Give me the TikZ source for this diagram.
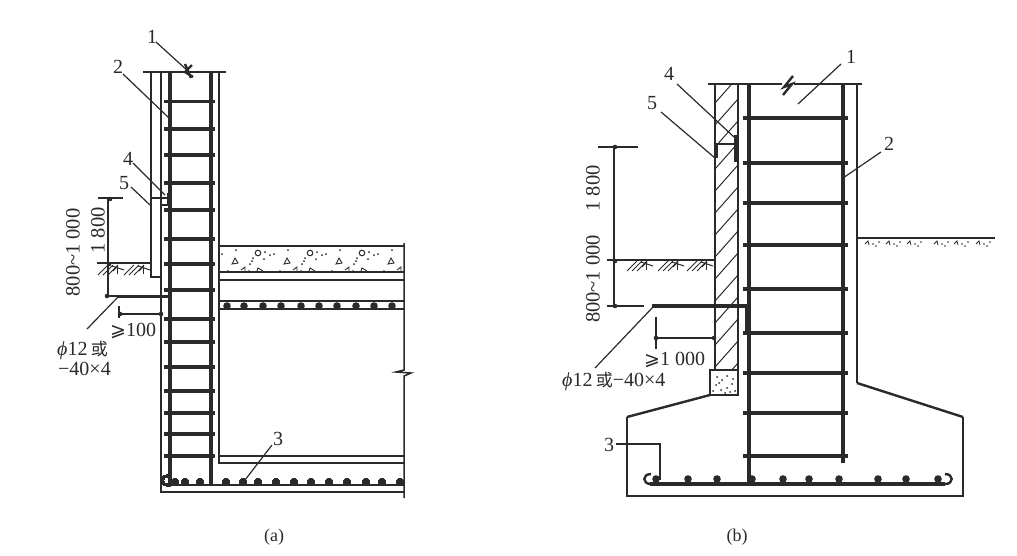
\documentclass[tikz,border=0pt]{standalone}
\usepackage{fontspec}
\setmainfont{Liberation Serif}
\newfontfamily\cjk{Noto Sans CJK SC}
\newfontfamily\symf{DejaVu Sans}
\definecolor{ink}{HTML}{2A2A2A}
\tikzset{
  thinl/.style={draw=ink,line width=1.5pt},
  medl/.style={draw=ink,line width=2.4pt},
  thickl/.style={draw=ink,line width=3.6pt},
  rung/.style={draw=ink,line width=3.3pt},
  leader/.style={draw=ink,line width=1.2pt},
  lbl/.style={text=ink,inner sep=0pt,font=\fontsize{20}{20}\selectfont},
  dimlbl/.style={text=ink,inner sep=0pt,rotate=90,font=\fontsize{20.5}{20.5}\selectfont},
  captext/.style={text=ink,inner sep=0pt,font=\fontsize{18}{18}\selectfont},
  hatchl/.style={draw=ink,line width=1pt}
}
\newcommand{\groundg}[2]{%
  \foreach \i in {0,1,2}{\draw[hatchl] ({#1+\i*5},{#2+10}) -- ({#1+\i*5+10},{#2});}
  \draw[hatchl] ({#1+14},{#2+1}) -- ({#1+26},{#2+5});
  \draw[hatchl] ({#1+15},{#2+6}) -- ({#1+20},{#2+1});
  \draw[hatchl] ({#1+19},{#2+9}) -- ({#1+19},{#2+3});
}
\newcommand{\rebardot}[2]{\fill[ink] (#1,#2) circle (3.8);}
\newcommand{\tickdot}[2]{\fill[ink] (#1,#2) circle (2.3);}
\begin{document}
\begin{tikzpicture}[x=1pt,y=-1pt]
\useasboundingbox (0,0) rectangle (1017,555);
\fill[white] (0,0) rectangle (1017,555);

% ============ panel (a) ============
\draw[thinl] (143,72) -- (226,72);
\draw[thinl] (151,72) -- (151,277) -- (160,277);
\draw[thinl] (161,72) -- (161,492) -- (404,492);
\draw[thickl] (170,72) -- (170,485);
\draw[thickl] (211,72) -- (211,485);
\draw[thinl] (219,72) -- (219,463) -- (404,463);
\foreach \y in {101.5,129,155,183,210,239,264,290,319,342,367,391,413,434,456}
  \draw[rung] (164,\y) -- (215,\y);
% slab
\draw[thinl] (219,246) -- (404,246);
\draw[medl] (219,272) -- (404,272);
\draw[thinl] (219,280) -- (404,280);
\draw[thinl] (219,301) -- (404,301);
\draw[medl] (219,309) -- (404,309);
\draw[thinl] (219,456) -- (404,456);
\draw[medl] (170,485) -- (404,485);
\draw[thinl] (404,243) -- (404,370) -- (396,372) -- (411,373) -- (404,376) -- (404,498);
\foreach \x in {227,244,263,281,301,319,337,356,374,392} \rebardot{\x}{306}
\foreach \x in {175,185,200,226,243,258,276,294,311,329,347,366,382,400} \rebardot{\x}{482}
\draw[medl] (170,485) -- (168,485) .. controls (160,485) and (160,476) .. (168,476);
% concrete texture
\begin{scope}
\clip (219,246) rectangle (404,272);
\foreach \d in {0,52,104,156}{
  \draw[ink,line width=.9pt] ({235+\d},258) -- ({232+\d},264) -- ({238+\d},263) -- cycle;
  \draw[ink,line width=1pt] ({258+\d},253) circle (2.8);
  \draw[ink,line width=.9pt] ({241+\d},270) -- ({245+\d},267) -- ({245+\d},271);
  \draw[ink,line width=.9pt] ({257+\d},271) -- ({258+\d},268) -- ({263+\d},271);
  \foreach \a/\b in {222/254,236/250,252/261,253/258,250/264,265/252,270/255,264/259,228/271,249/271}
    \fill[ink] ({\a+\d},\b) circle (1);
}
\end{scope}
% anchor 4 and anchor bar
\draw[medl] (151,198) -- (170,198);
\draw[thinl] (161,205) -- (170,205);
\draw[medl] (168,193) -- (168,205);
\draw[thickl] (118,296.5) -- (170,296.5);
% ground
\draw[thinl] (97,263) -- (151,263);
\groundg{98}{265}
\groundg{124}{265}
% dimensions
\draw[leader] (108,198) -- (108,296);
\draw[leader] (98,198) -- (123,198);
\draw[leader] (106,296) -- (118,296);
\tickdot{110}{199}\tickdot{109}{264}\tickdot{107}{296}
\draw[leader] (119,306) -- (119,318);
\draw[leader] (119,314) -- (162,314);
\tickdot{120}{314}\tickdot{161}{314}
% labels
\node[lbl] (a1) at (152,37) {1};
\node[lbl] (a2) at (118,67) {2};
\node[lbl] (a3) at (278,439) {3};
\node[lbl] (a4) at (128,159) {4};
\node[lbl] (a5) at (124,183) {5};
\coordinate (a1e) at (189,72);
\coordinate (a2e) at (169,118);
\coordinate (a3e) at (245,480);
\coordinate (a4e) at (165,195);
\coordinate (a5e) at (150,205);
\coordinate (abar) at (118,297);
\draw[leader] (a1) ++(4,5) -- (a1e);
\draw[leader] (a2) ++(5,7) -- (a2e);
\draw[leader] (a3) ++(-6,6) -- (a3e);
\draw[leader] (a4) ++(5,4) -- (a4e);
\draw[leader] (a5) ++(7,4) -- (a5e);
\draw[medl] (192,65) -- (185,72) -- (193,77);
\draw[medl] (185,64) -- (191,78);
\node[dimlbl] (ad1) at (73,252.5) {800\textasciitilde 1 000};
\node[dimlbl] (ad2) at (98,230.5) {1 800};
\node[lbl,anchor=west] (ad3) at (110,331) {{\symf\fontsize{19}{19}\selectfont ⩾}100};
\node[lbl,anchor=west] (aphi) at (57,350) {\textit{ϕ}12\,{\cjk\fontsize{17}{17}\selectfont 或}};
\node[lbl,anchor=west] (abar2) at (58,369) {−40×4};
\coordinate (aphil) at (87,329);
\draw[leader] (abar) -- (aphil);
\node[captext] (capa) at (274,537) {(a)};

% ============ panel (b) ============
\draw[thinl] (708,84) -- (782,84);
\draw[thinl] (794,84) -- (862,84);
\draw[medl] (793,76) -- (784,87) -- (792,84) -- (783,95);
\begin{scope}
\clip (715,84) rectangle (738,370);
\foreach \k in {-1,...,13}
  \draw[hatchl] (715,{103+\k*22}) -- (738,{77+\k*22});
\end{scope}
\draw[thinl] (715,84) -- (715,370);
\draw[thinl] (738,84) -- (738,370);
\draw[thickl] (749,84) -- (749,484);
\draw[thickl] (843,84) -- (843,463);
\foreach \y in {118,163,203,245,289,333,373,413,456}
  \draw[rung] (743,\y) -- (848,\y);
% footing
\draw[medl,fill=white] (710,370) rectangle (738,395);
\foreach \a/\b in {717/377,722/380,727/376,733/379,716/385,721/390,727/388,732/384,735/391,713/391,725/393,730/392,719/383}
  \fill[ink] (\a,\b) circle (1);
\draw[thinl] (857,84) -- (857,383);
\draw[medl] (710,395) -- (627,417);
\draw[thinl] (627,417) -- (627,496) -- (963,496) -- (963,417);
\draw[medl] (963,417) -- (857,383);
% bottom bars
\draw[thickl] (650,484) -- (945,484);
\draw[medl] (651,484) .. controls (642,484) and (642,474) .. (651,474);
\draw[medl] (945,484) .. controls (954,484) and (954,474) .. (945,474);
\foreach \x in {656,688,717,752,783,809,839,878,906,938} \rebardot{\x}{479}
% anchors
\draw[medl] (716,144) -- (735,144);
\draw[medl] (717,144) -- (717,158);
\draw[thickl] (736,135) -- (736,162);
\draw[thickl] (652,306) -- (749,306);
\draw[line width=4.5pt,draw=ink] (747,306) -- (747,333);
% ground
\draw[thinl] (607,260) -- (715,260);
\groundg{627}{261}
\groundg{658}{261}
\groundg{687}{261}
\draw[medl] (857,238) -- (995,238);
\foreach \d in {0,21,42,69,89,111}{
  \draw[ink,line width=.8pt] ({865+\d},244) -- ({868+\d},241) -- ({869+\d},245);
  \fill[ink] ({873+\d},244) circle (.8);
  \fill[ink] ({876+\d},246) circle (.8);
  \fill[ink] ({879+\d},242) circle (.8);
}
% dimensions
\draw[leader] (614,147) -- (614,306);
\draw[leader] (598,147) -- (638,147);
\draw[leader] (607,306) -- (644,306);
\tickdot{615}{147}\tickdot{615}{261}\tickdot{615}{306}
\draw[leader] (656,317) -- (656,349);
\draw[leader] (656,338) -- (715,338);
\tickdot{656}{338}\tickdot{714}{338}
% labels
\node[lbl] (b1) at (851,57) {1};
\node[lbl] (b2) at (889,144) {2};
\node[lbl] (b3) at (609,445) {3};
\node[lbl] (b4) at (669,74) {4};
\node[lbl] (b5) at (652,103) {5};
\coordinate (b1e) at (798,104);
\coordinate (b2e) at (843,178);
\coordinate (b3k) at (660,444);
\coordinate (b3e) at (660,480);
\coordinate (b4e) at (734,137);
\coordinate (b5e) at (715,158);
\coordinate (bbar) at (653,307);
\coordinate (bphil) at (595,368);
\draw[leader] (b1) ++(-10,7) -- (b1e);
\draw[leader] (b2) ++(-8,8) -- (b2e);
\draw[leader] (b3) ++(7,-1) -- (b3k) -- (b3e);
\draw[leader] (b4) ++(8,10) -- (b4e);
\draw[leader] (b5) ++(9,9) -- (b5e);
\draw[leader] (bbar) -- (bphil);
\node[dimlbl] (bd1) at (593,279) {800\textasciitilde 1 000};
\node[dimlbl] (bd2) at (593,188.5) {1 800};
\node[lbl,anchor=west] (bd3) at (644,360) {{\symf\fontsize{19}{19}\selectfont ⩾}1 000};
\node[lbl,anchor=west] (bphi) at (562,381) {\textit{ϕ}12\,{\cjk\fontsize{17}{17}\selectfont 或}−40×4};
\node[captext] (capb) at (737,537) {(b)};
\end{tikzpicture}
\end{document}
